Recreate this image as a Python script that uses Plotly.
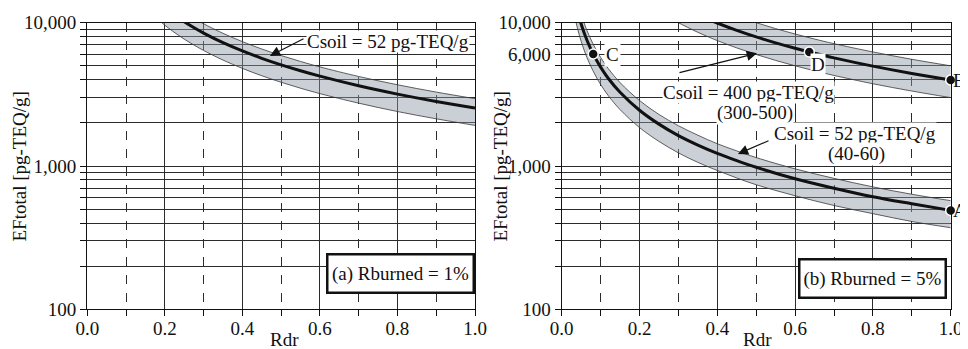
import math
import plotly.graph_objects as go

# ---------------- data ----------------
# (a) Rburned = 1 %, Csoil = 52 pg-TEQ/g (band 40-60)
rdr_a = [0.18, 0.2, 0.22, 0.25, 0.28, 0.3, 0.35, 0.4, 0.45, 0.5, 0.55, 0.6, 0.7, 0.8, 0.9, 1.0]
ef_a_mid = [14110, 12700, 11545, 10160, 9070, 8465, 7255, 6350, 5645, 5080, 4620, 4235, 3630, 3175, 2820, 2540]
ef_a_low = [10670, 9600, 8730, 7680, 6860, 6400, 5485, 4800, 4265, 3840, 3490, 3200, 2745, 2400, 2135, 1920]
ef_a_high = [16390, 14750, 13410, 11800, 10535, 9835, 8430, 7375, 6555, 5900, 5365, 4915, 4215, 3690, 3280, 2950]

# (b) Rburned = 5 %, Csoil = 52 pg-TEQ/g (40-60)
rdr_b52 = [0.035, 0.04, 0.045, 0.05, 0.06, 0.07, 0.08, 0.09, 0.1, 0.12, 0.15, 0.2, 0.25, 0.3,
           0.35, 0.4, 0.45, 0.5, 0.6, 0.7, 0.8, 0.9, 1.0]
ef_b52_mid = [14000, 12250, 10890, 9800, 8170, 7000, 6125, 5440, 4900, 4080, 3270, 2450, 1960, 1630,
              1400, 1225, 1090, 980, 815, 700, 610, 545, 490]
ef_b52_low = [10600, 9275, 8245, 7420, 6180, 5300, 4640, 4120, 3710, 3090, 2475, 1855, 1485, 1235,
              1060, 930, 825, 740, 620, 530, 465, 410, 371]
ef_b52_high = [16370, 14325, 12730, 11460, 9550, 8185, 7160, 6365, 5730, 4775, 3820, 2865, 2290, 1910,
               1640, 1430, 1275, 1145, 955, 820, 715, 635, 573]

# (b) Rburned = 5 %, Csoil = 400 pg-TEQ/g (300-500)
rdr_b400 = [0.28, 0.3, 0.35, 0.4, 0.45, 0.5, 0.55, 0.6, 0.65, 0.7, 0.8, 0.9, 1.0]
ef_b400_mid = [14210, 13270, 11370, 9950, 8845, 7960, 7235, 6635, 6125, 5685, 4975, 4420, 3980]
ef_b400_low = [10710, 10000, 8570, 7500, 6670, 6000, 5455, 5000, 4615, 4285, 3750, 3335, 3000]
ef_b400_high = [17860, 16670, 14290, 12500, 11110, 10000, 9090, 8335, 7690, 7140, 6250, 5555, 5000]

# labelled points in (b)
point_labels = ["A", "B", "C", "D"]
point_rdr = [1.0, 1.0, 0.081, 0.6365]
point_ef = [490, 3980, 6050, 6250]

# axis ticks
y_tick_vals = [100, 200, 300, 400, 500, 600, 700, 800, 900,
               1000, 2000, 3000, 4000, 5000, 6000, 7000, 8000, 9000, 10000]
y_labels_a = {100: "100", 1000: "1,000", 10000: "10,000"}
y_labels_b = {100: "100", 1000: "1,000", 6000: "6,000", 10000: "10,000"}

# ---------------- styling ----------------
FONT = "Liberation Serif, Times New Roman, serif"
FS = 19
GRID = "#2b2b2b"
BAND_FILL = "rgba(140,148,165,0.45)"
BAND_EDGE = "#3a3a3a"
W, H = 968, 349          # page body has an 8 px margin in the browser
OFF = 8


def px_x(p):
    return (p - OFF) / W


def px_y(p):
    return 1 - (p - OFF) / H


fig = go.Figure()


def add_band(rdr, low, mid, high, xa, ya):
    fig.add_trace(go.Scatter(x=rdr, y=high, mode="lines", xaxis=xa, yaxis=ya,
                             line=dict(color=BAND_EDGE, width=0.8, shape="spline"),
                             showlegend=False, hoverinfo="skip"))
    fig.add_trace(go.Scatter(x=rdr, y=low, mode="lines", xaxis=xa, yaxis=ya, fill="tonexty",
                             fillcolor=BAND_FILL,
                             line=dict(color=BAND_EDGE, width=0.8, shape="spline"),
                             showlegend=False, hoverinfo="skip"))
    fig.add_trace(go.Scatter(x=rdr, y=mid, mode="lines", xaxis=xa, yaxis=ya,
                             line=dict(color="#111111", width=3, shape="spline"),
                             showlegend=False))


add_band(rdr_a, ef_a_low, ef_a_mid, ef_a_high, "x", "y")
add_band(rdr_b52, ef_b52_low, ef_b52_mid, ef_b52_high, "x2", "y2")
add_band(rdr_b400, ef_b400_low, ef_b400_mid, ef_b400_high, "x2", "y2")

fig.add_trace(go.Scatter(x=point_rdr, y=point_ef, mode="markers", xaxis="x2", yaxis="y2",
                         marker=dict(color="#111111", size=10, line=dict(color="white", width=1.5)),
                         cliponaxis=False, showlegend=False))

Y_DOMAIN = [px_y(309.3), px_y(22.7)]


def xaxis_cfg(domain, anchor):
    return dict(domain=domain, anchor=anchor, range=[0, 1], tick0=0, dtick=0.2, tickformat=".1f",
                showgrid=True, gridcolor=GRID, gridwidth=1, zeroline=False,
                ticks="outside", ticklen=6, tickcolor="#111", tickwidth=1,
                ticklabelstandoff=-4,
                showline=True, linecolor="#111", linewidth=1.3, mirror=True,
                tickfont=dict(family=FONT, size=FS, color="#111"),
                minor=dict(tick0=0, dtick=0.1, showgrid=True, griddash="dash", gridcolor=GRID,
                           gridwidth=1, ticks="outside", ticklen=6, tickcolor="#111"),
                automargin=False)


def yaxis_cfg(anchor, labels):
    return dict(domain=Y_DOMAIN, anchor=anchor, type="log",
                range=[2, 4], tickvals=y_tick_vals,
                ticktext=[labels.get(v, "") for v in y_tick_vals],
                showgrid=True, gridcolor=GRID, gridwidth=1, zeroline=False,
                ticks="outside", ticklen=6, tickcolor="#111", tickwidth=1,
                showline=True, linecolor="#111", linewidth=1.3, mirror=True,
                tickfont=dict(family=FONT, size=FS, color="#111"), automargin=False)


fig.update_layout(
    width=W, height=H, margin=dict(l=0, r=0, t=0, b=0),
    paper_bgcolor="white", plot_bgcolor="white",
    font=dict(family=FONT, size=FS, color="#111"),
    xaxis=xaxis_cfg([px_x(87.3), px_x(475)], "y"),
    yaxis=yaxis_cfg("x", y_labels_a),
    xaxis2=xaxis_cfg([px_x(561.7), px_x(950.7)], "y2"),
    yaxis2=yaxis_cfg("x2", y_labels_b),
    showlegend=False,
)

ann = []
tf = dict(family=FONT, size=FS, color="#111")
L = math.log10

# axis titles
for xp in (px_x(19), px_x(500)):
    ann.append(dict(text="EFtotal [pg-TEQ/g]", xref="paper", yref="paper", x=xp, y=px_y(166.5),
                    textangle=-90, showarrow=False, font=tf, xanchor="center", yanchor="middle"))
for xp in (px_x(284), px_x(757)):
    ann.append(dict(text="Rdr", xref="paper", yref="paper", x=xp, y=px_y(339),
                    showarrow=False, font=tf, xanchor="center", yanchor="middle"))

# arrows (text-free)
arrows = [("x", "y", 0.471, 3.768, 0.5615, 3.893),
          ("x2", "y2", 0.502, 3.787, 0.299, 3.649),
          ("x2", "y2", 0.453, 3.084, 0.5355, 3.181)]
for xr, yr, x, y, ax, ay in arrows:
    ann.append(dict(text="", xref=xr, yref=yr, x=x, y=y, axref=xr, ayref=yr, ax=ax, ay=ay,
                    showarrow=True, arrowhead=2, arrowsize=1.7, arrowwidth=1.2, arrowcolor="#111"))

# curve labels with white background
labels = [("x", "y", 0.776, 3.866, "Csoil = 52 pg-TEQ/g"),
          ("x2", "y2", 0.479, 3.516, "Csoil = 400 pg-TEQ/g"),
          ("x2", "y2", 0.497, 3.370, "(300-500)"),
          ("x2", "y2", 0.755, 3.230, "Csoil = 52 pg-TEQ/g"),
          ("x2", "y2", 0.759, 3.084, "(40-60)")]
for xr, yr, x, y, t in labels:
    ann.append(dict(text=t, xref=xr, yref=yr, x=x, y=y, showarrow=False, font=tf,
                    bgcolor="white", borderpad=0, xanchor="center", yanchor="middle"))

# panel boxes
ann.append(dict(text="(a) Rburned = 1%", xref="x", yref="y", x=0.8066, y=2.253, showarrow=False,
                font=tf, bgcolor="white", bordercolor="#111", borderwidth=2.5, borderpad=3,
                width=138, height=30))
ann.append(dict(text="(b) Rburned = 5%", xref="x2", yref="y2", x=0.800, y=2.218, showarrow=False,
                font=tf, bgcolor="white", bordercolor="#111", borderwidth=2.5, borderpad=3,
                width=138, height=30))

# point labels
ann.append(dict(text="A", xref="x2", yref="y2", x=1.0, y=L(point_ef[0]), xanchor="left", xshift=1,
                showarrow=False, font=tf, borderpad=0))
ann.append(dict(text="B", xref="x2", yref="y2", x=1.0, y=L(point_ef[1]), xanchor="left", xshift=1,
                showarrow=False, font=tf, borderpad=0))
ann.append(dict(text="C", xref="x2", yref="y2", x=0.1293, y=L(6000), showarrow=False, font=tf,
                bgcolor="white", borderpad=1))
ann.append(dict(text="D", xref="x2", yref="y2", x=0.6584, y=3.705, showarrow=False, font=tf,
                bgcolor="white", borderpad=0))

fig.update_layout(annotations=ann)
fig.write_html("out.html")
